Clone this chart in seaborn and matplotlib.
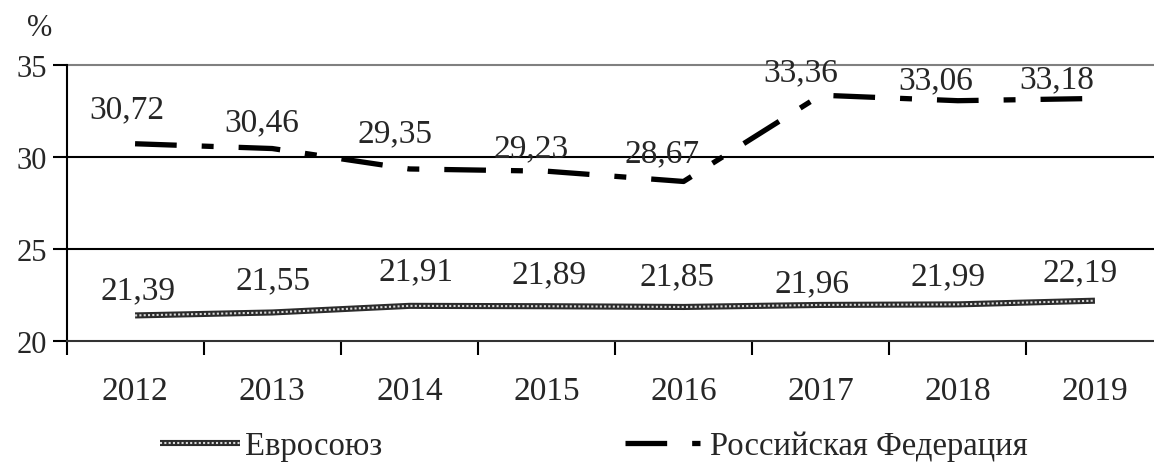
import matplotlib
matplotlib.use("Agg")
import matplotlib.pyplot as plt
from matplotlib.legend_handler import HandlerTuple
import seaborn as sns
import pandas as pd

years = ["2012", "2013", "2014", "2015", "2016", "2017", "2018", "2019"]
eu_values = [21.39, 21.55, 21.91, 21.89, 21.85, 21.96, 21.99, 22.19]
ru_values = [30.72, 30.46, 29.35, 29.23, 28.67, 33.36, 33.06, 33.18]
eu_name = "Евросоюз"
ru_name = "Российская Федерация"
y_ticks = [20, 25, 30, 35]

# label placement around each point, in pixels (dx, dy)
eu_label_off = [(3, 25), (1, 32), (7, 35), (3, 32), (-7, 31), (-9, 22), (-10, 28), (-15, 29)]
ru_label_off = [(-8, 35), (-10, 27), (-14, 36), (-15, 23), (-21, 28), (-20, 23), (-22, 21), (-38, 19)]

sns.set_style("white")
plt.rcParams["font.family"] = ["Liberation Serif", "DejaVu Serif"]
plt.rcParams["lines.scale_dashes"] = False
FS = 24
FS_Y = 22
FS_LEG = 23.5

df = pd.DataFrame({"x": range(len(years)), "eu": eu_values, "ru": ru_values})

fig = plt.figure(figsize=(11.54, 4.64), dpi=100)
ax = fig.add_axes([66.5 / 1154, 1 - 342 / 464, 1097 / 1154, 276 / 464])

# Евросоюз: dark band with light dotted core
sns.lineplot(data=df, x="x", y="eu", ax=ax, color="#2b2b2b", linewidth=4.4,
             solid_capstyle="butt", zorder=3)
sns.lineplot(data=df, x="x", y="eu", ax=ax, color="#d8d8d8", linewidth=1.5,
             zorder=4)
# Российская Федерация: long dash / short dash
sns.lineplot(data=df, x="x", y="ru", ax=ax, color="black", linewidth=3.8,
             zorder=5)
eu_base, eu_core, ru_line = ax.lines[0], ax.lines[1], ax.lines[2]
eu_core.set_dashes((1.5, 1.6))
eu_core.set_dash_capstyle("butt")
ru_line.set_dashes((30, 18, 8.6, 18))
ru_line.set_dash_capstyle("butt")

ax.set_xlim(-0.5, len(years) - 0.5)
ax.set_ylim(20, 35)
ax.set_xlabel("")
ax.set_ylabel("")

# year boundaries as ticks, names centred between them
ax.set_xticks([i - 0.5 for i in range(len(years) + 1)])
ax.set_xticklabels([])
ax.set_xticks(range(len(years)), minor=True)
ax.set_xticklabels(years, minor=True, fontsize=FS)
ax.tick_params(axis="x", which="major", direction="out", length=10, width=1.5,
               color="black", bottom=True)
ax.tick_params(axis="x", which="minor", length=0, pad=25)
ax.set_yticks(y_ticks)
ax.set_yticklabels([str(v) for v in y_ticks], fontsize=FS_Y)
ax.tick_params(axis="y", direction="out", length=10, width=1.5, color="black",
               left=True, pad=4)

for sp in ["top", "right"]:
    ax.spines[sp].set_visible(False)
ax.spines["left"].set_color("black")
ax.spines["left"].set_linewidth(1.5)
ax.spines["bottom"].set_color("#333333")
ax.spines["bottom"].set_linewidth(1.5)

for v in y_ticks[1:]:
    ax.axhline(v, color="#808080" if v == 35 else "black", linewidth=1.5,
               zorder=1, clip_on=False)

for i, (v, (dx, dy)) in enumerate(zip(eu_values, eu_label_off)):
    ax.annotate(f"{v:.2f}".replace(".", ","), (i, v), xytext=(dx, dy),
                textcoords="offset pixels", ha="center", va="center",
                fontsize=FS, zorder=6)
for i, (v, (dx, dy)) in enumerate(zip(ru_values, ru_label_off)):
    ax.annotate(f"{v:.2f}".replace(".", ","), (i, v), xytext=(dx, dy),
                textcoords="offset pixels", ha="center", va="center",
                fontsize=FS, zorder=6)

fig.text(40 / 1154, 1 - 28 / 464, "%", fontsize=FS_Y, ha="center", va="center")

fig.legend([(eu_base, eu_core)], [eu_name],
           handler_map={tuple: HandlerTuple(ndivide=1)},
           loc="center left", bbox_to_anchor=(160 / 1154, 1 - 447 / 464),
           frameon=False, fontsize=FS_LEG, handlelength=2.45,
           handletextpad=0.15, borderpad=0, borderaxespad=0)
fig.legend([ru_line], [ru_name],
           loc="center left", bbox_to_anchor=(625 / 1154, 1 - 447 / 464),
           frameon=False, fontsize=FS_LEG, handlelength=2.3,
           handletextpad=0.3, borderpad=0, borderaxespad=0)

fig.savefig("out.png", dpi=100)
